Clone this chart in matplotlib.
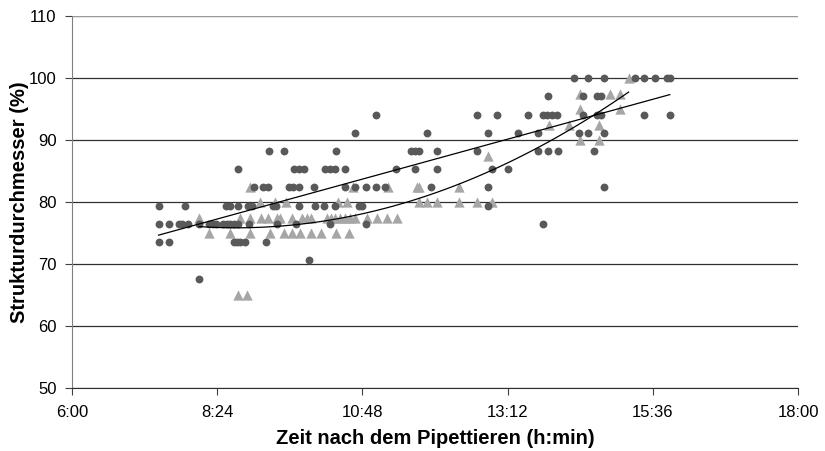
import numpy as np
import matplotlib
matplotlib.use("Agg")
from matplotlib import pyplot as plt
from matplotlib.ticker import FuncFormatter, FixedLocator, MultipleLocator

# Circles (dark): percent level -> times (hours after pipetting)
circle_levels = [100.0, 97.1, 94.1, 91.2, 88.2, 85.3, 82.4, 79.4, 76.5, 73.5, 70.6, 67.6]
circle_times = [
    [14.29, 14.53, 14.79, 15.31, 15.45, 15.64, 15.83, 15.88],
    [13.87, 14.45, 14.68, 14.74],
    [11.02, 12.69, 13.03, 13.53, 13.78, 13.85, 13.93, 14.02, 14.45, 14.68, 14.74, 15.45, 15.88],
    [10.68, 11.86, 12.87, 13.37, 13.70, 14.38, 14.53, 14.79],
    [9.26, 9.51, 10.36, 11.60, 11.67, 11.74, 12.03, 12.69, 13.70, 13.87, 14.04, 14.63],
    [8.75, 9.67, 9.75, 9.83, 10.18, 10.26, 10.35, 10.51, 11.36, 11.67, 12.03, 12.94, 13.20],
    [9.00, 9.16, 9.24, 9.58, 9.66, 9.75, 10.00, 10.51, 10.68, 10.86, 11.02, 11.17, 11.93, 12.87, 14.79],
    [7.43, 7.87, 8.55, 8.61, 8.75, 8.91, 8.97, 9.32, 9.37, 9.75, 10.02, 10.17, 10.35, 10.75, 10.79, 12.87],
    [7.43, 7.60, 7.76, 7.81, 7.92, 8.10, 8.27, 8.33, 8.38, 8.50, 8.56, 8.61, 8.67, 8.75, 8.92,
     9.38, 9.70, 10.26, 10.86, 13.78],
    [7.43, 7.60, 8.67, 8.72, 8.78, 8.86, 9.21],
    [9.92],
    [8.10],
]

# Triangles (light): percent level -> times
tri_levels = [100.0, 97.5, 95.0, 92.5, 90.0, 87.5, 82.5, 80.0, 77.5, 75.0, 65.0]
tri_times = [
    [15.20],
    [14.39, 14.89, 15.05],
    [14.39, 15.05],
    [13.89, 14.21, 14.71],
    [14.39, 14.71],
    [12.88],
    [8.94, 10.64, 11.23, 11.70, 11.74, 12.39],
    [9.11, 9.36, 9.54, 10.39, 10.55, 11.74, 11.86, 12.03, 12.39, 12.70, 12.94],
    [8.10, 8.78, 8.94, 9.12, 9.24, 9.38, 9.44, 9.63, 9.80, 9.88, 9.95, 10.21, 10.28, 10.35,
     10.43, 10.51, 10.60, 10.68, 10.87, 11.04, 11.20, 11.37],
    [8.27, 8.61, 8.94, 9.27, 9.50, 9.63, 9.77, 9.95, 10.11, 10.36, 10.57],
    [8.75, 8.89],
]

x_ticks = [6.0, 8.4, 10.8, 13.2, 15.6, 18.0]


def flatten(levels, times):
    xs, ys = [], []
    for lv, ts in zip(levels, times):
        xs += ts
        ys += [lv] * len(ts)
    return np.array(xs), np.array(ys)


cx, cy = flatten(circle_levels, circle_times)
tx, ty = flatten(tri_levels, tri_times)

plt.rcParams['font.family'] = ['Liberation Sans', 'DejaVu Sans']

fig = plt.figure(figsize=(8.25, 4.51), dpi=100)
ax = fig.add_axes([0.0873, 0.1397, 0.8800, 0.8248])

ax.scatter(tx, ty, marker='^', s=55, color='#a6a6a6', linewidths=0, zorder=3)
ax.scatter(cx, cy, marker='o', s=32, color='#595959', linewidths=0, zorder=4)

# trend lines (linear for circles, polynomial for triangles)
pc = np.polyfit(cx, cy, 1)
xl = np.linspace(cx.min(), cx.max(), 100)
ax.plot(xl, np.polyval(pc, xl), color='black', lw=0.9, zorder=5)
pt = np.polyfit(tx, ty, 2)
xp = np.linspace(tx.min(), tx.max(), 100)
ax.plot(xp, np.polyval(pt, xp), color='black', lw=0.9, zorder=5)

ax.set_xlim(6, 18)
ax.set_ylim(50, 110)
ax.xaxis.set_major_locator(FixedLocator(x_ticks))
ax.yaxis.set_major_locator(MultipleLocator(10))


def hmin(v, pos):
    m = int(round(v * 60))
    return "%d:%02d" % (m // 60, m % 60)


ax.xaxis.set_major_formatter(FuncFormatter(hmin))
ax.tick_params(direction='out', length=5, width=0.8, color='#404040', labelsize=12, pad=6)
ax.tick_params(axis='x', pad=7)

ax.yaxis.grid(True, color='#303030', lw=0.9)
ax.set_axisbelow(True)
for sp in ['top', 'right']:
    ax.spines[sp].set_visible(False)
ax.spines['left'].set_color('#808080')
ax.spines['bottom'].set_color('#303030')
ax.axhline(110, color='#b0b0b0', lw=1.2, zorder=1)

ax.set_xlabel('Zeit nach dem Pipettieren (h:min)', fontsize=14.5, fontweight='bold')
ax.set_ylabel('Strukturdurchmesser (%)', fontsize=14.5, fontweight='bold')
ax.xaxis.label.set_va('center')
ax.yaxis.label.set_va('center')
ax.xaxis.set_label_coords(0.5, -0.136)
ax.yaxis.set_label_coords(-0.072, 0.5)

fig.savefig('out.png', dpi=100)
